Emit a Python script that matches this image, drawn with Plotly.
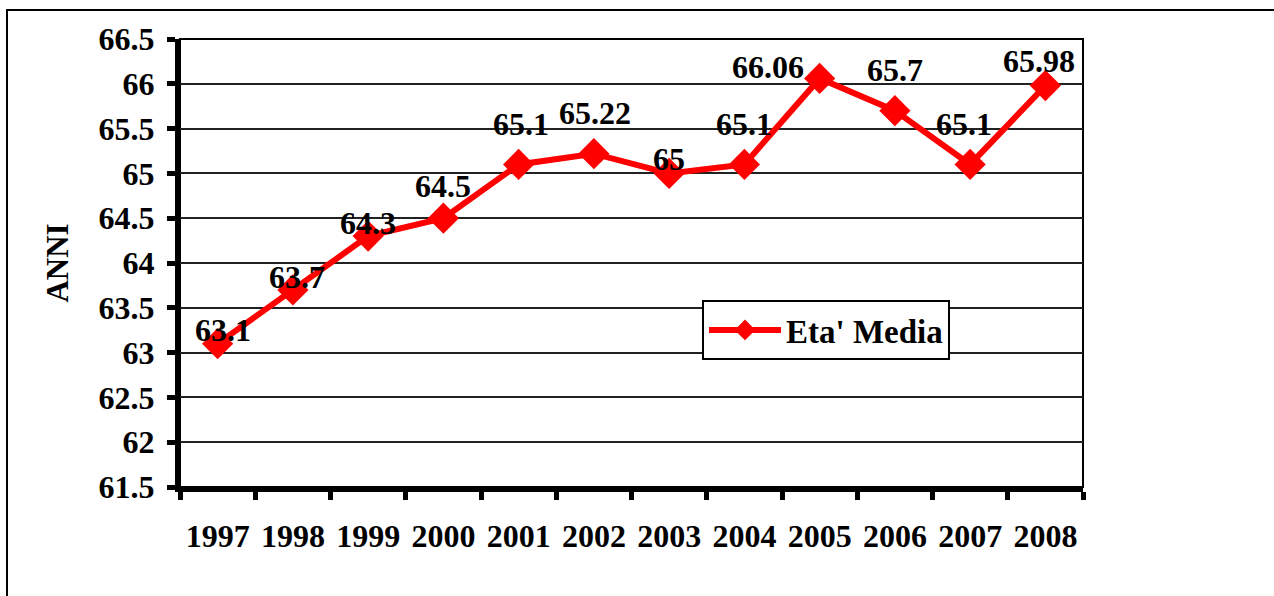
import plotly.graph_objects as go

years = ["1997", "1998", "1999", "2000", "2001", "2002", "2003", "2004", "2005", "2006", "2007", "2008"]
eta_media = [63.1, 63.7, 64.3, 64.5, 65.1, 65.22, 65.0, 65.1, 66.06, 65.7, 65.1, 65.98]
value_labels = ["63.1", "63.7", "64.3", "64.5", "65.1", "65.22", "65", "65.1", "66.06", "65.7", "65.1", "65.98"]
y_tick_vals = [61.5, 62, 62.5, 63, 63.5, 64, 64.5, 65, 65.5, 66, 66.5]
y_tick_text = ["61.5", "62", "62.5", "63", "63.5", "64", "64.5", "65", "65.5", "66", "66.5"]
series_name = "Eta' Media"
y_title = "ANNI"

# label offsets (pixels) for data labels, styling only
label_dx = [5, 4, 0, 0, 2, 1, 0, 0, -52, 0, -6, -6]
label_dy = [14, 13, 13, 32, 40, 41, 14, 40, 11, 41, 40, 25]

FONT = "Liberation Serif"
FS = 32
W, H = 1274, 596
L, R, T, B = 180, 191, 39, 109
pw, ph = W - L - R, H - T - B

fig = go.Figure()
fig.add_trace(go.Scatter(
    x=years, y=eta_media, mode="lines+markers", name=series_name,
    line=dict(color="#ff0000", width=6),
    marker=dict(symbol="diamond", size=24, color="#ff0000"),
))

for i, (yv, t, dx, dy) in enumerate(zip(eta_media, value_labels, label_dx, label_dy)):
    fig.add_annotation(x=i, y=yv, text=t, showarrow=False, xref="x", yref="y",
                       xshift=dx, yshift=dy,
                       font=dict(family=FONT, size=FS, color="black", weight="bold"))

# plot frame (thin top/right)
fig.add_shape(type="rect", xref="paper", yref="paper", x0=0, x1=1, y0=0, y1=1,
              line=dict(color="black", width=2), layer="below")
# outer chart border (left/top visible)
fig.add_shape(type="rect", xref="paper", yref="paper",
              x0=(7 - L) / pw, x1=(W + 20 - L) / pw,
              y0=-(B + 20) / ph, y1=(H - B - 10) / ph,
              line=dict(color="black", width=2), layer="below")

fig.update_layout(
    width=W, height=H,
    margin=dict(l=L, r=R, t=T, b=B, pad=0),
    paper_bgcolor="white", plot_bgcolor="white",
    font=dict(family=FONT, color="black"),
    showlegend=True,
    legend=dict(x=(702 - L) / pw, y=(H - B - 300) / ph, xanchor="left", yanchor="top",
                bgcolor="white", bordercolor="black", borderwidth=2, itemwidth=72,
                font=dict(family=FONT, size=33, color="black", weight="bold")),
    xaxis=dict(type="category", tickson="boundaries", ticks="outside", ticklen=8, tickwidth=5,
               tickcolor="black", showline=True, linecolor="black", linewidth=5,
               showgrid=False, ticklabelstandoff=17, tickangle=0,
               tickfont=dict(family=FONT, size=FS, color="black", weight="bold"),
               range=[-0.5, 11.5]),
    yaxis=dict(range=[61.5, 66.5], tickvals=y_tick_vals, ticktext=y_tick_text,
               ticks="outside", ticklen=8, tickwidth=5, tickcolor="black",
               showline=True, linecolor="black", linewidth=5,
               showgrid=True, gridcolor="#222", gridwidth=2, zeroline=False,
               ticklabelstandoff=6,
               tickfont=dict(family=FONT, size=FS, color="black", weight="bold"),
               title=dict(text=y_title, standoff=22,
                          font=dict(family=FONT, size=31, color="black", weight="bold"))),
)

fig.write_html("out.html", config={"displayModeBar": False},
               post_script="document.body.style.margin='0px';")
